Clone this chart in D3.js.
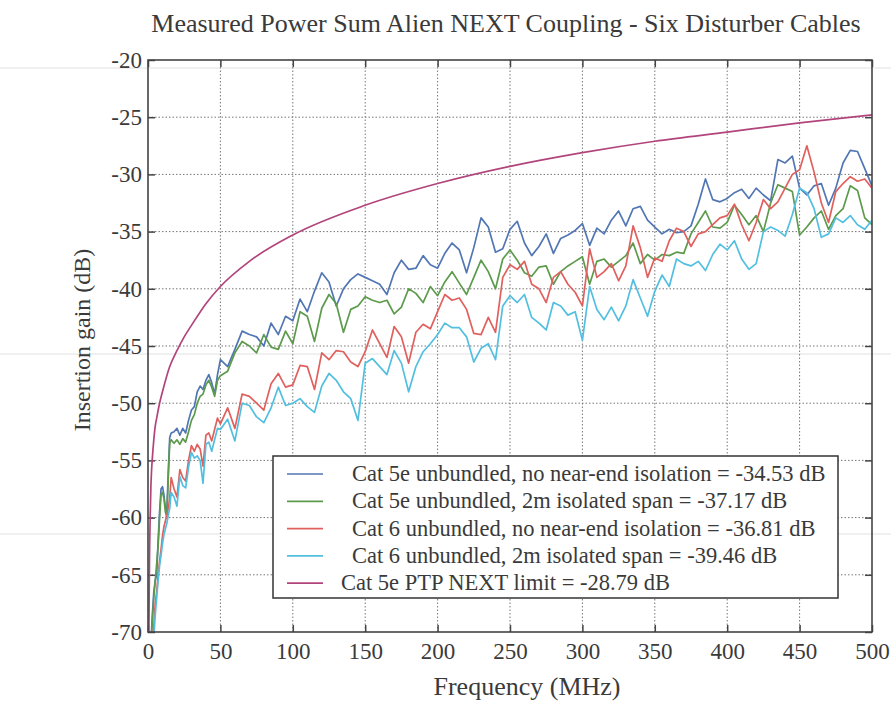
<!DOCTYPE html>
<html>
<head>
<meta charset="utf-8">
<script src="https://cdn.jsdelivr.net/npm/d3@7"></script>
<style>
  body { margin: 0; background: #fff; }
  text { font-family: "Liberation Serif", "Times New Roman", serif; fill: #3a3a3a; }
</style>
</head>
<body>
<div id="chart"></div>
<script>
// measured frequencies (MHz)
var freq = [1,2,3,4,5,6,7,8,9,10,11,12,13,14,15,16,
  18,20,22,24,26,28,30,32,34,36,38,40,42,44,46,48,
  50,55,60,65,70,75,80,85,90,95,100,
  105,110,115,120,125,130,135,140,145,150,155,160,165,170,175,180,185,190,195,200,
  205,210,215,220,225,230,235,240,245,250,255,260,265,270,275,280,285,290,295,300,
  305,310,315,320,325,330,335,340,345,350,355,360,365,370,375,380,385,390,395,400,
  405,410,415,420,425,430,435,440,445,450,455,460,465,470,475,480,485,490,495,500];

// Cat 5e unbundled, no near-end isolation
var cat5eNoIso = [-73,-71,-68.5,-66.5,-65.5,-65,-62,-59.5,-57.5,-57.3,-58,-59.2,-59.5,-56,-53,-52.6,
  -52.5,-52.2,-52.8,-52.2,-52.6,-51.5,-50.6,-50.3,-49,-48.5,-48.8,-48,-47.5,-48.2,-49.2,-47.5,
  -46.2,-46.8,-45.3,-43.7,-44,-44.2,-45,-43,-44,-42.4,-42.8,
  -40.9,-42,-40.2,-38.6,-39.4,-41.5,-40,-39.2,-38.7,-39,-39.3,-39.6,-40.5,-38.6,-37.5,-38.3,-38.2,-37.1,-37.9,-38.2,
  -36.9,-36,-36.6,-38.6,-36.4,-33.8,-34.6,-36.8,-36.5,-34.8,-34.1,-36,-37.1,-36.3,-35.2,-36.9,-35.6,-35.3,-34.9,-34.3,
  -36.2,-34.7,-35.2,-34,-33.2,-34.5,-33,-32.8,-34,-34.6,-35.2,-34.8,-35.1,-35,-34.5,-32.6,-30.4,-32.2,-32.4,-32.1,
  -31.6,-31.3,-32.1,-31.2,-31.8,-32.3,-28.7,-29,-28.4,-31.2,-31.8,-31,-30.8,-32.7,-31.2,-29,-27.9,-28,-29.5,-31];

// Cat 5e unbundled, 2m isolated span
var cat5e2m = [-73,-71.5,-69,-67,-65.5,-64,-62.5,-60,-58,-57.8,-58.3,-59.5,-60,-56.5,-53.5,-53.2,
  -53.5,-53.2,-53.6,-53.1,-53.4,-52.5,-51.5,-51,-50,-49.4,-49.2,-48.4,-48,-48.6,-49.4,-48,
  -47.6,-47.2,-45.6,-44.6,-45,-45.6,-44,-45.1,-45.3,-43.7,-44.8,
  -42,-42.4,-44.6,-41.7,-40.5,-41.3,-43.8,-41.8,-41.5,-40.7,-41,-41.2,-41,-42.2,-41.6,-40,-40.4,-41.2,-39.8,-40.6,
  -39.4,-38.5,-39.5,-40.5,-39,-37.5,-38.5,-40,-37.4,-36.6,-37.5,-38.6,-38.9,-38.1,-38,-39.6,-38.5,-38,-37.6,-37.2,
  -39.6,-37.6,-37.4,-38.1,-37.6,-37.1,-36,-37.8,-37,-37.5,-37,-37.1,-36.8,-36.9,-35.2,-34.2,-33.2,-34.6,-34.7,-34.2,
  -32.7,-33.5,-34.4,-33.6,-35,-32.5,-30.9,-31.2,-31.5,-35.3,-34.6,-33.8,-33.2,-34.8,-33.6,-33,-31,-31.4,-33.8,-34.4];

// Cat 6 unbundled, no near-end isolation
var cat6NoIso = [-75,-73,-71,-69.5,-67.5,-66.5,-65,-63.8,-62.8,-61.6,-60.8,-60.3,-59.8,-59.2,-58.3,-56.5,
  -57.5,-58.2,-55.8,-56.5,-56.8,-55,-53.7,-54.2,-53.6,-54,-55.5,-52.8,-52.6,-53.3,-52.3,-51.3,
  -51.8,-50.4,-52.2,-49.2,-49.4,-50,-50.6,-48.3,-47.4,-48.6,-48.4,
  -46.7,-46.8,-48.8,-45.6,-46.2,-45.4,-45.5,-46.4,-46.8,-45.5,-43.6,-44.8,-46,-43.3,-44.2,-46.5,-43.8,-43.1,-43.5,-42,
  -40.5,-41,-40.8,-41.8,-43.9,-44,-42.5,-43.8,-39,-37.9,-38.3,-37.6,-39.6,-40,-41.2,-39,-38.5,-39.6,-40.3,-41.5,
  -36.5,-39,-38.5,-37.8,-39.3,-38,-34.5,-36.4,-39,-37.3,-37.6,-35.8,-34.7,-35,-36.3,-35.2,-35,-34.4,-33.8,-33.6,
  -32.6,-34.4,-35.8,-34.2,-32.2,-33,-32.4,-31.2,-30,-29.6,-27.5,-29.8,-32.5,-34.2,-31.5,-30.8,-30.2,-30.6,-30.4,-31.2];

// Cat 6 unbundled, 2m isolated span
var cat62m = [-76,-74,-72,-70.5,-68.5,-67,-65.5,-64.2,-63.3,-62.3,-61.5,-61,-60.5,-59.8,-59.2,-57.8,
  -58.2,-59,-56.4,-57.2,-57.4,-55.6,-54.3,-54.8,-54.6,-55,-57,-53.6,-53.4,-54.2,-53.2,-52.2,
  -52.3,-51.4,-53.3,-50,-50.2,-51.2,-51.7,-50.4,-48.6,-50.2,-50,
  -49.6,-50.3,-50.8,-48.5,-47.4,-48,-49,-49.6,-51.5,-46.5,-46.1,-46.8,-47.5,-45.4,-46.5,-49,-46.8,-45.5,-44.8,-44,
  -43,-43.4,-43.4,-44.2,-46.4,-45.2,-44.8,-46.2,-41.5,-40.6,-41.2,-40.5,-42.5,-43,-43.6,-41.2,-41.5,-42.3,-42,-44.5,
  -39.8,-41.8,-42.7,-41.6,-42.8,-41.5,-39.2,-40.8,-42.4,-40.2,-38.8,-39.8,-37.4,-37.8,-38,-37.6,-38.4,-37,-36.1,-36.6,
  -35.8,-37.4,-38.3,-37.8,-35,-34.6,-34.9,-35.4,-33.5,-31.2,-31.6,-33,-35.5,-35.2,-33.8,-34.2,-33.6,-34.4,-34.8,-34];

// Cat 5e PTP NEXT limit
var limitFreq = [0.6,0.8,1,1.5,2,2.5,3,4,5,6,8,10,15,20,25,30,40,50,70,100,150,200,250,300,350,400,450,500];
var limitVals = [-70.5,-67,-64,-60,-57.3,-55.8,-54.8,-53.2,-52,-51.3,-50,-49,-46.8,-45.4,-44.2,-43.2,-41.3,-39.8,
  -37.6,-35.3,-32.7,-30.8,-29.3,-28.1,-27.1,-26.3,-25.5,-24.8];

var xTicks = [0,50,100,150,200,250,300,350,400,450,500];
var yTicks = [-20,-25,-30,-35,-40,-45,-50,-55,-60,-65,-70];

var legendLabels = [
  "Cat 5e unbundled, no near-end isolation = -34.53 dB",
  "Cat 5e unbundled, 2m isolated span = -37.17 dB",
  "Cat 6 unbundled, no near-end isolation = -36.81 dB",
  "Cat 6 unbundled, 2m isolated span = -39.46 dB",
  "Cat 5e PTP NEXT limit = -28.79 dB"];
var colors = ["#5176b3", "#5c9a4c", "#e0605e", "#52bfe0", "#b2447c"];

var width = 891, height = 701;
var pL = 148, pR = 872, pT = 60, pB = 632;

var svg = d3.select("#chart").append("svg")
    .attr("width", width)
    .attr("height", height);

var x = d3.scaleLinear().domain([0, 500]).range([pL, pR]);
var y = d3.scaleLinear().domain([-70, -20]).range([pB, pT]);

svg.append("defs").append("clipPath").attr("id", "plotclip")
  .append("rect").attr("x", pL).attr("y", pT)
  .attr("width", pR - pL).attr("height", pB - pT);

// faint scan lines across the page
svg.append("g").selectAll("line").data([68, 354, 534]).enter().append("line")
    .attr("x1", 0).attr("x2", width)
    .attr("y1", function(d) { return d; }).attr("y2", function(d) { return d; })
    .attr("stroke", "#e2e2e2").attr("stroke-width", 1.2);

// dotted grid
svg.append("g").selectAll("line").data(xTicks.slice(1, -1)).enter().append("line")
    .attr("x1", function(d) { return x(d); }).attr("x2", function(d) { return x(d); })
    .attr("y1", pT).attr("y2", pB)
    .attr("stroke", "#777").attr("stroke-width", 1).attr("stroke-dasharray", "1.5,2");
svg.append("g").selectAll("line").data(yTicks.slice(1, -1)).enter().append("line")
    .attr("y1", function(d) { return y(d); }).attr("y2", function(d) { return y(d); })
    .attr("x1", pL).attr("x2", pR)
    .attr("stroke", "#777").attr("stroke-width", 1).attr("stroke-dasharray", "1.5,2");

// axes with inward ticks
var xAxis = svg.append("g").attr("transform", "translate(0," + pB + ")")
    .call(d3.axisBottom(x).tickValues(xTicks).tickSize(-7).tickSizeOuter(0).tickPadding(11));
var yAxis = svg.append("g").attr("transform", "translate(" + pL + ",0)")
    .call(d3.axisLeft(y).tickValues(yTicks).tickFormat(function(d) { return String(d); })
      .tickSize(-7).tickSizeOuter(0).tickPadding(6));
svg.append("g").attr("transform", "translate(0," + pT + ")")
    .call(d3.axisTop(x).tickValues(xTicks).tickSize(-7).tickSizeOuter(0).tickFormat(""));
svg.append("g").attr("transform", "translate(" + pR + ",0)")
    .call(d3.axisRight(y).tickValues(yTicks).tickSize(-7).tickSizeOuter(0).tickFormat(""));
svg.selectAll(".domain").remove();
svg.selectAll(".tick line").attr("stroke", "#444").attr("stroke-width", 1.5);
xAxis.selectAll("text").attr("font-size", 23).attr("fill", "#3a3a3a")
  .style("font-family", "'Liberation Serif', serif");
yAxis.selectAll("text").attr("font-size", 23).attr("fill", "#3a3a3a")
  .style("font-family", "'Liberation Serif', serif");

// data lines
var series = [cat5eNoIso, cat5e2m, cat6NoIso, cat62m];
var line = d3.line()
    .x(function(d) { return x(d[0]); })
    .y(function(d) { return y(d[1]); });

var plot = svg.append("g").attr("clip-path", "url(#plotclip)");
series.forEach(function(vals, i) {
  plot.append("path")
    .datum(d3.zip(freq, vals))
    .attr("d", line)
    .attr("fill", "none")
    .attr("stroke", colors[i])
    .attr("stroke-width", 1.7)
    .attr("stroke-linejoin", "round");
});
plot.append("path")
    .datum(d3.zip(limitFreq, limitVals))
    .attr("d", line.curve(d3.curveMonotoneX))
    .attr("fill", "none")
    .attr("stroke", colors[4])
    .attr("stroke-width", 1.7);

// frame
svg.append("rect")
    .attr("x", pL).attr("y", pT)
    .attr("width", pR - pL).attr("height", pB - pT)
    .attr("fill", "none").attr("stroke", "#444").attr("stroke-width", 1.6);

// legend
var lg = svg.append("g");
lg.append("rect")
    .attr("x", 273).attr("y", 456).attr("width", 565).attr("height", 142)
    .attr("fill", "#fff").attr("stroke", "#333").attr("stroke-width", 1.5);
legendLabels.forEach(function(t, i) {
  var yy = 474 + i * 27.3;
  lg.append("line").attr("x1", 287).attr("x2", 323).attr("y1", yy).attr("y2", yy)
    .attr("stroke", colors[i]).attr("stroke-width", 1.7);
  lg.append("text").attr("x", i === 4 ? 341 : 352).attr("y", yy + 7)
    .attr("font-size", 22.5).text(t);
});

// titles
svg.append("text")
    .attr("x", 506).attr("y", 32)
    .attr("text-anchor", "middle").attr("font-size", 26)
    .text("Measured Power Sum Alien NEXT Coupling - Six Disturber Cables");
svg.append("text")
    .attr("x", 527).attr("y", 695)
    .attr("text-anchor", "middle").attr("font-size", 26)
    .text("Frequency (MHz)");
svg.append("text")
    .attr("transform", "translate(90,340) rotate(-90)")
    .attr("text-anchor", "middle").attr("font-size", 24)
    .text("Insertion gain (dB)");
</script>
</body>
</html>
